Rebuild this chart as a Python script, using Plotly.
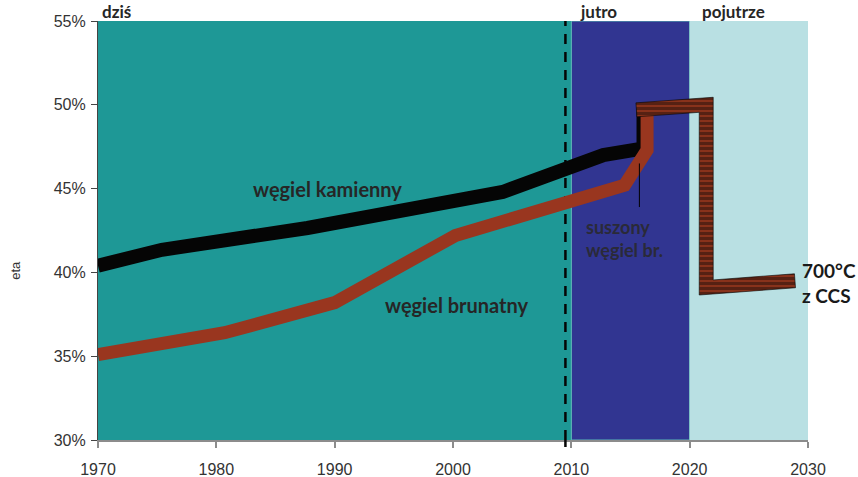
import numpy as np
import plotly.graph_objects as go

# Time periods shaded in the background
era_edges = [1970, 2010, 2020, 2030]
era_names = ["dziś", "jutro", "pojutrze"]
era_colors = ["#1e9896", "#313591", "#b9e0e3"]

# Hard coal plant efficiency (węgiel kamienny)
hc_year = [1970, 1975.4, 1987.7, 2004.2, 2012.7, 2016.1, 2016.1]
hc_eta = [40.4, 41.35, 42.65, 44.8, 47.0, 47.4, 49.8]

# Lignite plant efficiency (węgiel brunatny)
lig_year = [1970, 1980.7, 1990, 2000.2, 2014.5, 2016.4, 2016.4]
lig_eta = [35.1, 36.4, 38.2, 42.2, 45.2, 47.3, 49.6]

# 700°C technology, then with CCS
ccs_year = [2015.5, 2021.4, 2021.4, 2028.9]
ccs_eta = [49.7, 50.0, 39.1, 39.5]

# Marker for the present day and the dried-lignite pointer
today_year = 2009.5
dried_year = 2015.75
dried_eta = [43.9, 46.5]

x_ticks = [1970, 1980, 1990, 2000, 2010, 2020, 2030]
y_ticks = [30, 35, 40, 45, 50, 55]
y_tick_text = [f"{v}%" for v in y_ticks]

# Figure geometry (pixels), used to build the thick striped band
W, H = 858, 477
ML, MR, MT, MB = 98, 50, 21, 37
PW, PH = W - ML - MR, H - MT - MB
X0, X1 = x_ticks[0], x_ticks[-1]
Y0, Y1 = y_ticks[0], y_ticks[-1]
SX = PW / (X1 - X0)
SY = PH / (Y1 - Y0)


def band_polygon(xs, ys, half_px):
    """Outline of a polyline widened to 2*half_px pixels, in data units."""
    p = np.column_stack([(np.asarray(xs) - X0) * SX, (np.asarray(ys) - Y0) * SY])
    d = np.diff(p, axis=0)
    d = d / np.linalg.norm(d, axis=1)[:, None]
    n = np.column_stack([-d[:, 1], d[:, 0]])
    offs = []
    for i in range(len(p)):
        if i == 0:
            m = n[0]
        elif i == len(p) - 1:
            m = n[-1]
        else:
            a, b = n[i - 1], n[i]
            m = (a + b) / (1 + a @ b)
        offs.append(m * half_px)
    offs = np.array(offs)
    left = p + offs
    right = (p - offs)[::-1]
    poly = np.vstack([left, right, left[:1]])
    return poly[:, 0] / SX + X0, poly[:, 1] / SY + Y0


fig = go.Figure()

# present-day dashed marker, kept beneath the efficiency lines
fig.add_trace(go.Scatter(
    x=[today_year, today_year], y=[Y0, Y1], mode="lines",
    line=dict(color="#050505", width=2.5, dash="10px,8px"),
    hoverinfo="skip", showlegend=False,
))

fig.add_trace(go.Scatter(
    x=hc_year, y=hc_eta, mode="lines",
    line=dict(color="#050505", width=14), hoverinfo="skip", showlegend=False,
))
fig.add_trace(go.Scatter(
    x=lig_year, y=lig_eta, mode="lines",
    line=dict(color="#99361f", width=13), hoverinfo="skip", showlegend=False,
))

bx, by = band_polygon(ccs_year, ccs_eta, 7)
fig.add_trace(go.Scatter(
    x=bx, y=by, mode="lines", fill="toself",
    fillcolor="#99361f",
    fillpattern=dict(shape="-", size=5, solidity=0.75,
                     fgcolor="#050505", bgcolor="#a63c20"),
    line=dict(color="#050505", width=0.6),
    hoverinfo="skip", showlegend=False,
))

fig.add_trace(go.Scatter(
    x=[dried_year, dried_year], y=dried_eta, mode="lines",
    line=dict(color="black", width=1), hoverinfo="skip", showlegend=False,
))

shapes = []
for i, name in enumerate(era_names):
    shapes.append(dict(
        type="rect", xref="x", yref="y", layer="below",
        x0=era_edges[i], x1=era_edges[i + 1], y0=Y0, y1=Y1,
        fillcolor=era_colors[i],
        line=dict(width=1 if i == 1 else 0, color="#5cb8b6"),
    ))
# short stub of the dashed marker below the x axis
shapes.append(dict(
    type="line", xref="x", yref="paper", layer="above",
    x0=today_year, x1=today_year, y0=-7 / PH, y1=0,
    line=dict(color="#050505", width=2.5),
))

label_font = dict(family="Lato, Arial, sans-serif", size=20, color="#262626")
note_font = dict(family="Lato, Arial, sans-serif", size=18, color="#2a2a38")
ccs_font = dict(family="Lato, Arial, sans-serif", size=19, color="#1a1a1a")
annotations = [
    dict(x=1989.4, y=45.0, text="<b>węgiel kamienny</b>", showarrow=False,
         font=label_font),
    dict(x=2000.3, y=38.05, text="<b>węgiel brunatny</b>", showarrow=False,
         font=label_font),
    dict(x=2011.07, y=42.71, text="<b>suszony</b>", showarrow=False,
         xanchor="left", font=note_font),
    dict(x=2011.07, y=41.34, text="<b>węgiel br.</b>", showarrow=False,
         xanchor="left", font=note_font),
    dict(x=2029.3, y=40.14, text="<b>700°C</b>", showarrow=False,
         xanchor="left", font=ccs_font),
    dict(x=2029.3, y=38.65, text="<b>z CCS</b>", showarrow=False,
         xanchor="left", font=ccs_font),
    dict(xref="paper", yref="paper", x=-(ML - 6) / PW, y=0.405, text="eta",
         textangle=-90, showarrow=False,
         font=dict(family="Liberation Sans, Arial, sans-serif", size=13,
                   color="#333333")),
]
era_label_shift = [0.2, 0.6, 0.9]
for i, name in enumerate(era_names):
    annotations.append(dict(
        x=era_edges[i] + era_label_shift[i], y=1, xref="x", yref="paper",
        xanchor="left", yanchor="bottom", yshift=-3,
        text=f"<b>{name}</b>", showarrow=False,
        font=dict(family="Lato, Arial, sans-serif", size=17, color="#262626"),
    ))

tick_font = dict(family="Liberation Sans, Arial, sans-serif", size=16,
                 color="#333333")

fig.update_layout(
    width=W, height=H,
    margin=dict(l=ML, r=MR, t=MT, b=MB, pad=0),
    paper_bgcolor="white", plot_bgcolor="white",
    shapes=shapes, annotations=annotations,
    xaxis=dict(
        range=[X0, X1], tickmode="array", tickvals=x_ticks,
        ticktext=[str(v) for v in x_ticks],
        ticks="outside", ticklen=6, automargin=False,
        tickcolor="#8c8c8c", tickwidth=1.5, showline=True,
        linecolor="#8c8c8c", linewidth=2, showgrid=False, zeroline=False,
        tickfont=tick_font, ticklabelstandoff=8,
    ),
    yaxis=dict(
        range=[Y0, Y1], tickmode="array", tickvals=y_ticks,
        ticktext=y_tick_text, ticks="outside", automargin=False,
        ticklen=6, tickcolor="#444444", tickwidth=1.2, showline=True,
        linecolor="#444444", linewidth=1.2, showgrid=False, zeroline=False,
        tickfont=tick_font, ticklabelstandoff=2,
    ),
)

fig.write_html("out.html")
